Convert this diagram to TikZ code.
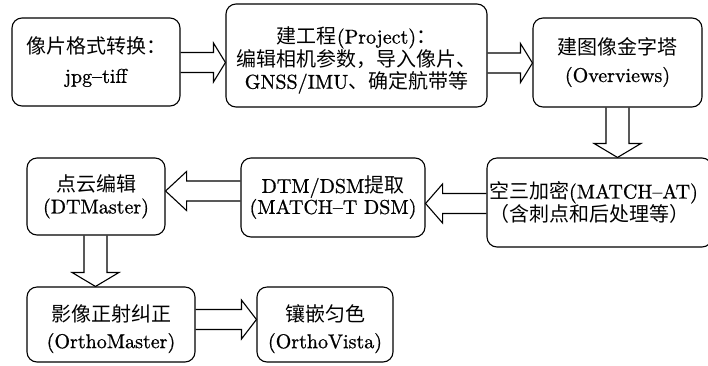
\documentclass[tikz,border=0pt]{standalone}
\usepackage{fontspec}
\setmainfont{lmroman10-regular.otf}[FakeBold=0.8]
\newfontfamily\cjk{Noto Sans CJK SC}
\usetikzlibrary{calc}
\newcommand\lowtext[2]{\raisebox{-#1}[\height][\depth]{\begin{tabular}{@{}c@{}}#2\end{tabular}}}
\newcommand\arrR[4]{\draw[blk] let \p1=(#1.east), \p2=(#2.west), \p3=(0,#3) in
  (\x1,\y3+10pt) -- (\x2-#4pt,\y3+10pt) -- (\x2-#4pt,\y3+19.5pt) -- (\x2,\y3)
  -- (\x2-#4pt,\y3-19.5pt) -- (\x2-#4pt,\y3-10pt) -- (\x1,\y3-10pt);}
\newcommand\arrL[4]{\draw[blk] let \p1=(#1.west), \p2=(#2.east), \p3=(0,#3) in
  (\x1,\y3+10pt) -- (\x2+#4pt,\y3+10pt) -- (\x2+#4pt,\y3+19.5pt) -- (\x2,\y3)
  -- (\x2+#4pt,\y3-19.5pt) -- (\x2+#4pt,\y3-10pt) -- (\x1,\y3-10pt);}
\newcommand\arrD[4]{\draw[blk] let \p1=(#1.south), \p2=(#2.north), \p3=(#3,0) in
  (\x3-11.5pt,\y1) -- (\x3-11.5pt,\y2+#4pt) -- (\x3-23.5pt,\y2+#4pt) -- (\x3,\y2)
  -- (\x3+23.5pt,\y2+#4pt) -- (\x3+11.5pt,\y2+#4pt) -- (\x3+11.5pt,\y1);}
\tikzset{
  box/.style={draw, line width=1.1pt, rounded corners=10pt, align=center,
    inner sep=0pt, font=\fontsize{20}{22}\selectfont},
  blk/.style={line width=1.1pt, line join=miter}
}
\begin{document}
\begin{tikzpicture}[x=1pt,y=-1pt]
\fill[white] (0,0) rectangle (708,365);
\useasboundingbox (0,0) rectangle (708,365);
\node[box, minimum width=168pt, minimum height=88pt] (b1) at (96,62)
  {{\cjk 像片格式转换：}\\[7pt]jpg\textendash tiff};
\node[box, minimum width=261pt, minimum height=103pt] (b2) at (356.5,55.5)
  {\lowtext{5.5pt}{{\cjk 建工程}(Project){\cjk ：}\\[-1pt]{\cjk 编辑相机参数，导入像片、}\\[-1pt]GNSS/IMU{\cjk 、确定航带等}}};
\node[box, minimum width=169pt, minimum height=89pt] (b3) at (617.5,62.5)
  {{\cjk 建图像金字塔}\\[5pt](Overviews)};
\node[box, text width=221pt, inner xsep=2pt, align=left, minimum height=89pt] (b4) at (599.5,202.5)
  {{\cjk 空三加密}(MATCH\textendash AT)\\{\cjk （含刺点和后处理等）}};
\node[box, minimum width=184pt, minimum height=79pt] (b5) at (333,197.5)
  {DTM/DSM{\cjk 提取}\\[-1pt](MATCH\textendash T DSM)};
\node[box, minimum width=138pt, minimum height=77pt] (b6) at (96,196.5)
  {{\cjk 点云编辑}\\(DTMaster)};
\node[box, minimum width=168pt, minimum height=75pt] (b7) at (111,324.5)
  {\lowtext{5pt}{{\cjk 影像正射纠正}\\[5pt](OrthoMaster)}};
\node[box, minimum width=136pt, minimum height=75pt] (b8) at (325,324.5)
  {\lowtext{5pt}{{\cjk 镶嵌匀色}\\[5pt](OrthoVista)}};
\arrR{b1}{b2}{62.5}{12}
\arrR{b2}{b3}{63}{12}
\arrD{b3}{b4}{617.5}{14}
\arrL{b4}{b5}{203.5}{17}
\arrL{b5}{b6}{191}{21}
\arrD{b6}{b7}{95.5}{14}
\arrR{b7}{b8}{319.5}{15}
\end{tikzpicture}
\end{document}
